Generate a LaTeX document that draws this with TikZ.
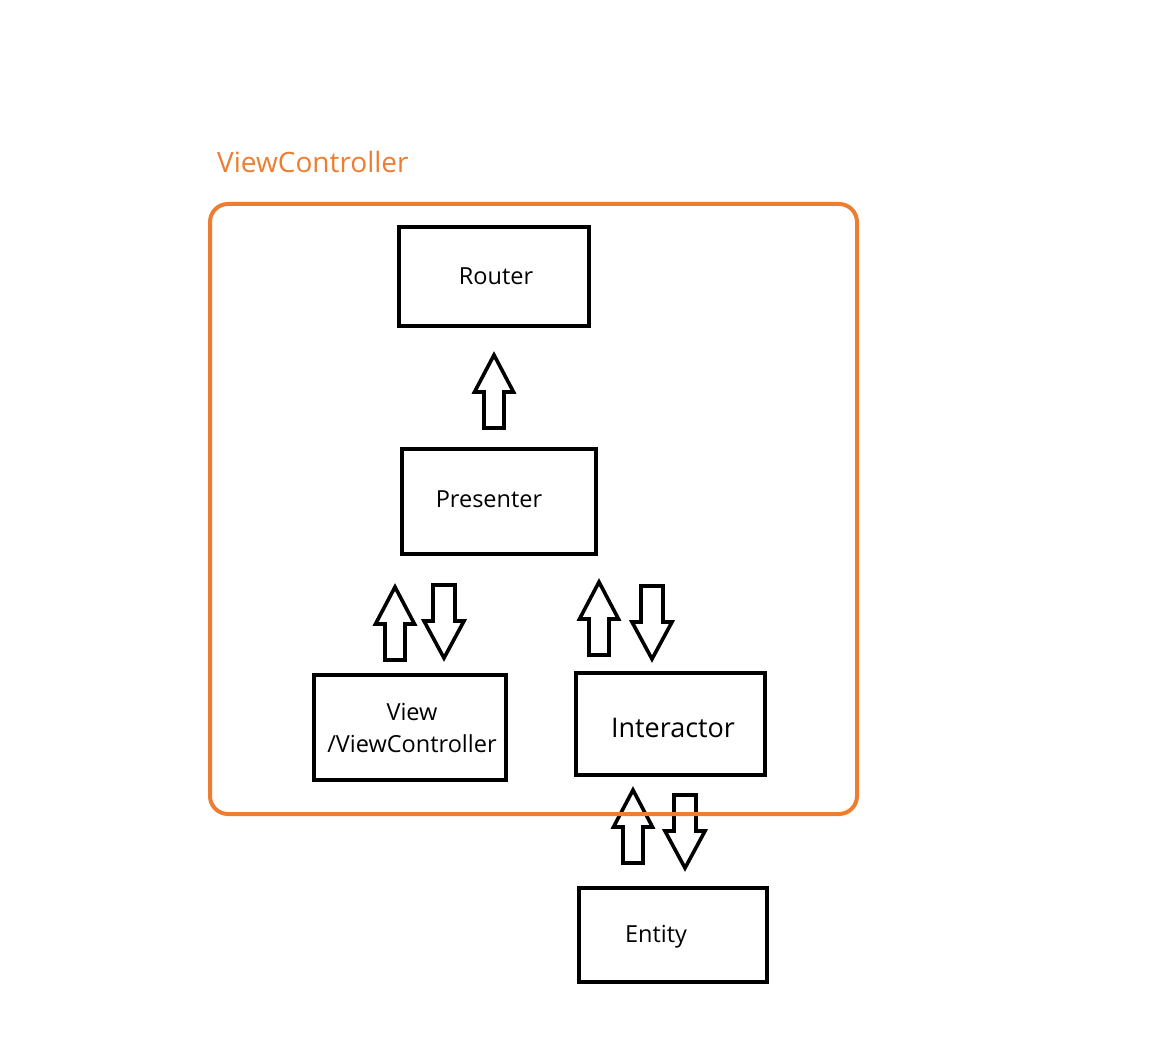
\documentclass[tikz,border=0pt]{standalone}
\usepackage{fontspec}
\setmainfont{Open Sans}
\definecolor{vcorange}{HTML}{ED7D31}
\tikzset{
  box/.style={draw=black, line width=4pt, fill=white, inner sep=0pt, rectangle},
  lbl/.style={inner sep=0pt, font=\fontsize{23.5}{32}\selectfont},
  blk/.style={draw=black, line width=3.6pt, line join=miter},
  uparr/.pic={\draw[blk] (0,0) -- (19.5,37) -- (10,37) -- (10,73) -- (-10,73) -- (-10,37) -- (-19.5,37) -- cycle;},
  dnarr/.pic={\draw[blk] (0,0) -- (20,-37) -- (11,-37) -- (11,-73) -- (-11,-73) -- (-11,-37) -- (-20,-37) -- cycle;},
}
\begin{document}
\begin{tikzpicture}[x=1pt,y=-1pt]
\useasboundingbox (0,0) rectangle (1152,1048);
% boxes
\node[box, minimum width=190pt, minimum height=99pt] (router) at (494,276.5) {};
\node[box, minimum width=194pt, minimum height=105pt] (presenter) at (499,501.5) {};
\node[box, minimum width=192pt, minimum height=105pt] (view) at (410,727.5) {};
\node[box, minimum width=189pt, minimum height=102pt] (interactor) at (670.5,724) {};
\node[box, minimum width=188pt, minimum height=94pt] (entity) at (673,935) {};
% labels
\node[lbl] (routerlbl) at (496,276) {Router};
\node[lbl] (presenterlbl) at (489,499) {Presenter};
\node[lbl, align=center] (viewlbl) at (412,728) {View\\/ViewController};
\node[lbl, font=\fontsize{27}{30}\selectfont] (interactorlbl) at (673,728) {Interactor};
\node[lbl] (entitylbl) at (656,937) {Entity};
% block arrows
\pic (a1) at (494,355) {uparr};
\pic (a2) at (395,587) {uparr};
\pic (a3) at (444,658) {dnarr};
\pic (a4) at (599,582) {uparr};
\pic (a5) at (652,659) {dnarr};
\pic (a6) at (633,790) {uparr};
\pic (a7) at (685,868) {dnarr};
% container
\node[draw=vcorange, line width=4pt, rounded corners=18pt, inner sep=0pt,
      minimum width=647pt, minimum height=610pt] (container) at (533.5,509) {};
\node[inner sep=0pt, anchor=west, text=vcorange, font=\fontsize{28}{32}\selectfont] (vclbl) at (217,162) {ViewController};
\end{tikzpicture}
\end{document}
